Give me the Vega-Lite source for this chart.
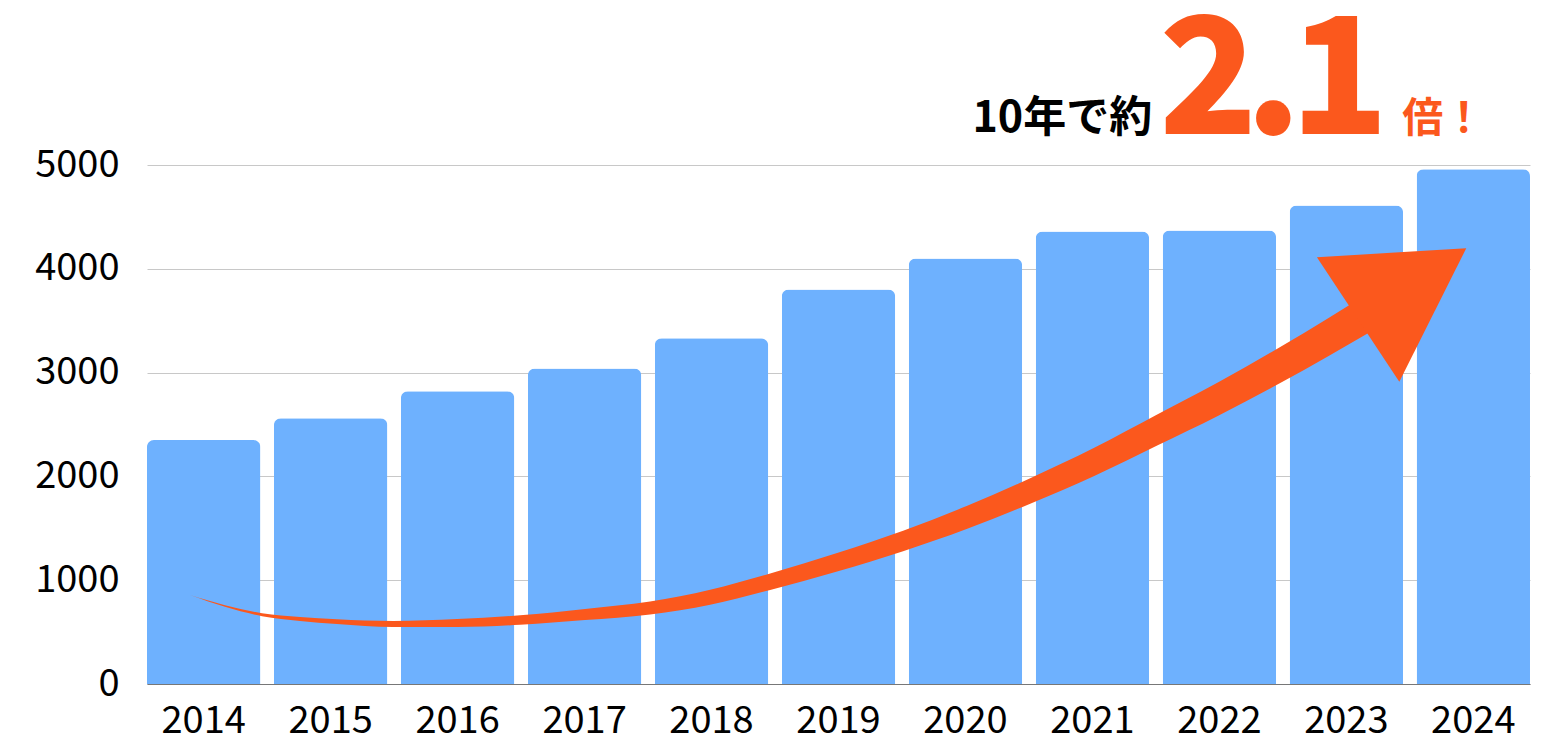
{
  "$schema": "https://vega.github.io/schema/vega-lite/v6.json",
  "width": 1383,
  "height": 519,
  "autosize": {"type": "none"},
  "padding": {"left": 147, "top": 165, "right": 27, "bottom": 55},
  "background": "white",
  "config": {
    "font": "Noto Sans CJK JP",
    "view": {"stroke": null},
    "axis": {"labelFont": "Noto Sans CJK JP"}
  },
  "resolve": {"scale": {"x": "independent"}},
  "layer": [
    {
      "data": {"values": [
        {"year": "2014", "value": 2350},
        {"year": "2015", "value": 2560},
        {"year": "2016", "value": 2820},
        {"year": "2017", "value": 3040},
        {"year": "2018", "value": 3330},
        {"year": "2019", "value": 3800},
        {"year": "2020", "value": 4100},
        {"year": "2021", "value": 4360},
        {"year": "2022", "value": 4370},
        {"year": "2023", "value": 4610},
        {"year": "2024", "value": 4960}
      ]},
      "mark": {"type": "bar", "color": "#6EB1FE", "cornerRadiusTopLeft": 7, "cornerRadiusTopRight": 7},
      "encoding": {
        "x": {
          "field": "year", "type": "ordinal",
          "scale": {"paddingInner": 0.107, "paddingOuter": 0},
          "axis": {"title": null, "labelFontSize": 38, "labelColor": "#000000", "labelPadding": 18, "ticks": false, "domainColor": "#777777", "domainWidth": 1, "labelAngle": 0}
        },
        "y": {
          "field": "value", "type": "quantitative",
          "scale": {"domain": [0, 5000], "nice": false, "zero": true},
          "axis": {"title": null, "values": [0, 1000, 2000, 3000, 4000, 5000], "format": "d", "labelFontSize": 38, "labelColor": "#000000", "labelPadding": 28, "ticks": false, "domain": false, "gridColor": "#c8c8c8", "gridWidth": 1}
        }
      }
    },
    {
      "data": {"values": [
        {"x": 2013.892, "top": 857.4, "bottom": 857.4},
        {"x": 2014.168, "top": 759.2, "bottom": 743.7},
        {"x": 2014.460, "top": 682.1, "bottom": 653.2},
        {"x": 2014.759, "top": 645.5, "bottom": 606.9},
        {"x": 2015.050, "top": 622.8, "bottom": 577.6},
        {"x": 2015.492, "top": 606.9, "bottom": 549.1},
        {"x": 2015.996, "top": 626.2, "bottom": 549.1},
        {"x": 2016.492, "top": 662.3, "bottom": 570.8},
        {"x": 2017.004, "top": 723.5, "bottom": 615.6},
        {"x": 2017.516, "top": 794.8, "bottom": 669.6},
        {"x": 2017.989, "top": 908.5, "bottom": 764.0},
        {"x": 2018.462, "top": 1065.0, "bottom": 906.1},
        {"x": 2018.989, "top": 1261.6, "bottom": 1083.3},
        {"x": 2019.509, "top": 1476.4, "bottom": 1278.9},
        {"x": 2020.014, "top": 1716.8, "bottom": 1495.2},
        {"x": 2020.510, "top": 1982.2, "bottom": 1736.5},
        {"x": 2021.014, "top": 2275.5, "bottom": 2003.9},
        {"x": 2021.510, "top": 2596.4, "bottom": 2297.7},
        {"x": 2021.991, "top": 2908.0, "bottom": 2585.3},
        {"x": 2022.479, "top": 3246.7, "bottom": 2899.8},
        {"x": 2023.228, "top": 3806.4, "bottom": 3421.0}
      ]},
      "mark": {"type": "area", "color": "#FB581D", "interpolate": "monotone"},
      "encoding": {
        "x": {"field": "x", "type": "quantitative", "scale": {"domain": [2013.5537, 2024.4463], "nice": false, "zero": false}, "axis": null},
        "y": {"field": "top", "type": "quantitative", "title": null},
        "y2": {"field": "bottom"}
      }
    },
    {
      "data": {"values": [
        {"x": 2022.768, "top": 4110.8, "bottom": 4110.8},
        {"x": 2023.417, "top": 4159.0, "bottom": 2912.3},
        {"x": 2023.944, "top": 4197.5, "bottom": 4197.5}
      ]},
      "mark": {"type": "area", "color": "#FB581D", "interpolate": "linear"},
      "encoding": {
        "x": {"field": "x", "type": "quantitative", "scale": {"domain": [2013.5537, 2024.4463], "nice": false, "zero": false}, "axis": null},
        "y": {"field": "top", "type": "quantitative", "title": null},
        "y2": {"field": "bottom"}
      }
    },
    {
      "data": {"values": [{"label": "10年で約", "x": 2021.471, "y": 5318}]},
      "mark": {"type": "text", "align": "right", "baseline": "alphabetic", "fontSize": 43, "fontWeight": "bold", "color": "#000000", "font": "Noto Sans CJK JP"},
      "encoding": {
        "x": {"field": "x", "type": "quantitative", "scale": {"domain": [2013.5537, 2024.4463], "nice": false, "zero": false}, "axis": null},
        "y": {"field": "y", "type": "quantitative", "title": null},
        "text": {"field": "label"}
      }
    },
    {
      "data": {"values": [
        {"label": "2", "x": 2021.912, "y": 5299},
        {"label": ".", "x": 2022.424, "y": 5299},
        {"label": "1", "x": 2022.944, "y": 5299}
      ]},
      "mark": {"type": "text", "align": "center", "baseline": "alphabetic", "fontSize": 162, "fontWeight": 900, "color": "#FB581D", "font": "Noto Sans CJK JP"},
      "encoding": {
        "x": {"field": "x", "type": "quantitative", "scale": {"domain": [2013.5537, 2024.4463], "nice": false, "zero": false}, "axis": null},
        "y": {"field": "y", "type": "quantitative", "title": null},
        "text": {"field": "label"}
      }
    },
    {
      "data": {"values": [{"label": "倍！", "x": 2023.440, "y": 5318}]},
      "mark": {"type": "text", "align": "left", "baseline": "alphabetic", "fontSize": 41, "fontWeight": "bold", "color": "#FB581D", "font": "Noto Sans CJK JP"},
      "encoding": {
        "x": {"field": "x", "type": "quantitative", "scale": {"domain": [2013.5537, 2024.4463], "nice": false, "zero": false}, "axis": null},
        "y": {"field": "y", "type": "quantitative", "title": null},
        "text": {"field": "label"}
      }
    }
  ]
}
